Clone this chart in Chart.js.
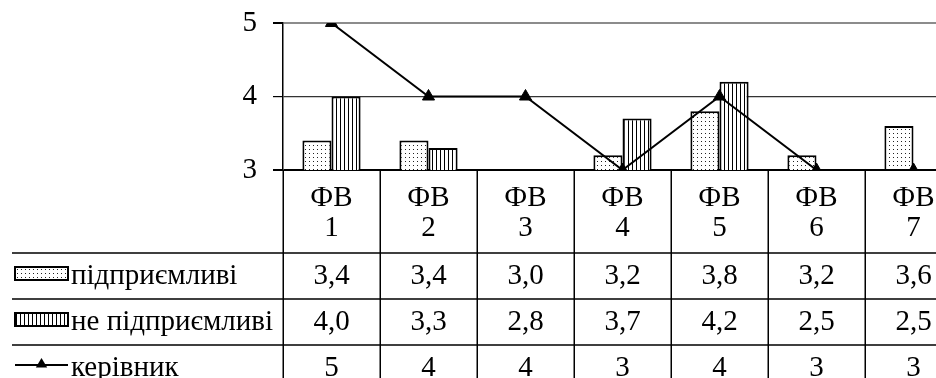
<!DOCTYPE html>
<html>
<head>
<meta charset="utf-8">
<script src="https://cdn.jsdelivr.net/npm/chart.js@4.4.1/dist/chart.umd.min.js"></script>
<style>
  html, body { margin: 0; padding: 0; background: #fff; overflow: hidden; }
  #wrap { width: 980px; height: 378px; }
</style>
</head>
<body>
<div id="wrap"><canvas id="c" width="980" height="378"></canvas></div>
<script>
// Categories and series
const categories = ['ФВ 1', 'ФВ 2', 'ФВ 3', 'ФВ 4', 'ФВ 5', 'ФВ 6', 'ФВ 7'];
const enterprising = [3.4, 3.4, 3.0, 3.2, 3.8, 3.2, 3.6];
const nonEnterprising = [4.0, 3.3, 2.8, 3.7, 4.2, 2.5, 2.5];
const leader = [5, 4, 4, 3, 4, 3, 3];
const seriesNames = ['підприємливі', 'не підприємливі', 'керівник'];
const yTicks = [3, 4, 5];

const FONT_FAMILY = "'Liberation Serif', 'Times New Roman', serif";
const FONT_SIZE = 29;
const FONT = FONT_SIZE + 'px ' + FONT_FAMILY;

const canvas = document.getElementById('c');
const ctx0 = canvas.getContext('2d');

// Fill patterns: fine dots and vertical hatching
function makePattern(w, h, draw) {
  const t = document.createElement('canvas');
  t.width = w; t.height = h;
  const c = t.getContext('2d');
  c.fillStyle = '#fff';
  c.fillRect(0, 0, w, h);
  draw(c);
  return ctx0.createPattern(t, 'repeat');
}
const dotPattern = makePattern(4, 4, c => {
  c.fillStyle = '#222';
  c.fillRect(1, 1, 1, 1);
});
const stripePattern = makePattern(4, 1, c => {
  c.fillStyle = '#000';
  c.fillRect(0, 0, 1, 1);
});

const fmtDecimal = v => v.toFixed(1).replace('.', ',');
const fmtInt = v => String(v);

const tableRows = [
  { name: seriesNames[0], values: enterprising, fmt: fmtDecimal, swatch: 'dots' },
  { name: seriesNames[1], values: nonEnterprising, fmt: fmtDecimal, swatch: 'stripes' },
  { name: seriesNames[2], values: leader, fmt: fmtInt, swatch: 'line' }
];

function drawTriangle(ctx, cx, cy, r) {
  ctx.beginPath();
  ctx.moveTo(cx, cy - r);
  ctx.lineTo(cx + r * 0.95, cy + r * 0.6);
  ctx.lineTo(cx - r * 0.95, cy + r * 0.6);
  ctx.closePath();
  ctx.fill();
}

// Data table under the plot, aligned with the category scale
const dataTablePlugin = {
  id: 'dataTable',
  afterDraw(chart) {
    const { ctx, chartArea: a, scales: { x } } = chart;
    const n = categories.length;
    const colW = (a.right - a.left) / n;
    const W = chart.width, H = chart.height;
    const rowLines = [a.bottom + 83, a.bottom + 129, a.bottom + 175];
    const rowH = 46;

    ctx.save();
    ctx.strokeStyle = '#000';
    ctx.lineWidth = 1.5;
    ctx.beginPath();
    for (let i = 0; i <= n; i++) {
      const xx = Math.round(a.left + i * colW) + 0.25;
      ctx.moveTo(xx, a.bottom);
      ctx.lineTo(xx, H);
    }
    rowLines.forEach(y => {
      ctx.moveTo(12, y);
      ctx.lineTo(W, y);
    });
    ctx.stroke();

    ctx.font = FONT;
    ctx.fillStyle = '#000';
    ctx.textAlign = 'center';
    ctx.textBaseline = 'middle';

    // Header cells: two lines per category
    categories.forEach((c, i) => {
      const cx = x.getPixelForValue(i);
      const parts = c.split(' ');
      ctx.fillText(parts[0], cx, a.bottom + 28);
      ctx.fillText(parts[1], cx, a.bottom + 58);
    });

    // Series rows with legend keys
    tableRows.forEach((row, r) => {
      const cy = rowLines[r] + rowH / 2;
      row.values.forEach((v, i) => {
        ctx.textAlign = 'center';
        ctx.fillText(row.fmt(v), x.getPixelForValue(i), cy);
      });
      // legend key
      const kx = 15, kw = 53;
      if (row.swatch === 'line') {
        ctx.lineWidth = 2;
        ctx.beginPath();
        ctx.moveTo(kx, cy - 3);
        ctx.lineTo(kx + kw, cy - 3);
        ctx.stroke();
        drawTriangle(ctx, kx + kw / 2, cy - 4, 6);
      } else {
        ctx.fillStyle = row.swatch === 'dots' ? dotPattern : stripePattern;
        ctx.fillRect(kx, cy - 9, kw, 13);
        ctx.lineWidth = 2;
        ctx.strokeRect(kx, cy - 9, kw, 13);
        ctx.fillStyle = '#000';
      }
      ctx.textAlign = 'left';
      ctx.fillText(row.name, 71, cy);
    });
    ctx.restore();
  }
};

const PLOT_LEFT = 283, PLOT_TOP = 23, PLOT_BOTTOM = 170, COL_W = 97;
const PLOT_RIGHT = PLOT_LEFT + COL_W * categories.length;

new Chart(canvas, {
  type: 'bar',
  data: {
    labels: categories,
    datasets: [
      {
        label: seriesNames[0],
        data: enterprising,
        backgroundColor: dotPattern,
        borderColor: '#000',
        borderWidth: 2,
        categoryPercentage: 0.6,
        barPercentage: 1.0,
        clip: 0,
        order: 2
      },
      {
        label: seriesNames[1],
        data: nonEnterprising,
        backgroundColor: stripePattern,
        borderColor: '#000',
        borderWidth: 2,
        categoryPercentage: 0.6,
        barPercentage: 1.0,
        clip: 0,
        order: 2
      },
      {
        type: 'line',
        label: seriesNames[2],
        data: leader,
        borderColor: '#000',
        borderWidth: 2,
        backgroundColor: '#000',
        pointStyle: 'triangle',
        pointRadius: 7,
        pointBackgroundColor: '#000',
        pointBorderColor: '#000',
        pointBorderWidth: 1,
        tension: 0,
        fill: false,
        order: 1
      }
    ]
  },
  options: {
    responsive: false,
    animation: false,
    devicePixelRatio: 1,
    layout: {
      padding: { left: 0, top: PLOT_TOP, right: 980 - PLOT_RIGHT, bottom: 378 - PLOT_BOTTOM }
    },
    plugins: {
      legend: { display: false },
      tooltip: { enabled: false }
    },
    scales: {
      x: {
        display: false,
        offset: true
      },
      y: {
        min: yTicks[0],
        max: yTicks[yTicks.length - 1],
        afterBuildTicks: s => { s.ticks = yTicks.map(v => ({ value: v })); },
        afterFit: s => {
          s.width = PLOT_LEFT;
          s.paddingTop = 0;
          s.paddingBottom = 0;
        },
        ticks: {
          color: '#000',
          font: { family: FONT_FAMILY, size: FONT_SIZE },
          padding: 16
        },
        grid: {
          drawTicks: true,
          tickLength: 10,
          tickColor: '#000',
          color: c => c.tick.value === 5 ? '#8c8c8c' : (c.tick.value === 3 ? '#000' : '#333'),
          lineWidth: c => c.tick.value === 3 ? 2 : (c.tick.value === 5 ? 2 : 1.2)
        },
        border: { color: '#000', width: 1.5 }
      }
    }
  },
  plugins: [dataTablePlugin]
});
</script>
</body>
</html>
